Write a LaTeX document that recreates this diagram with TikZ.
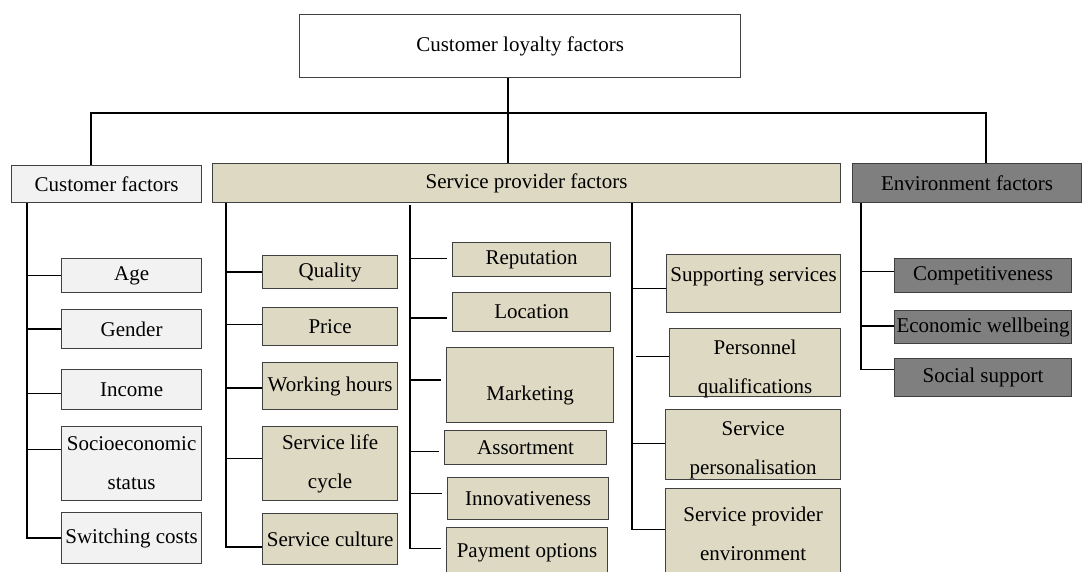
\documentclass[tikz,border=0pt]{standalone}
\usepackage{fontspec}
\setmainfont{Liberation Serif}
\usetikzlibrary{calc,positioning}
\definecolor{custgrey}{HTML}{F2F2F2}
\definecolor{sptan}{HTML}{DDD9C3}
\definecolor{envgrey}{HTML}{7F7F7F}

\begin{document}
\begin{tikzpicture}[x=1pt,y=-1pt]

\tikzset{box/.style={draw=black!75,line width=1.2pt,anchor=north west,inner sep=0pt,align=center,font=\fontsize{21}{39}\selectfont},
custbox/.style={box,fill=custgrey},
spbox/.style={box,fill=sptan},
envbox/.style={box,fill=envgrey},
link/.style={line width=1.7pt},
every label/.style={font=\fontsize{21}{39}\selectfont,align=center,inner sep=0pt}}

\useasboundingbox (0,0) rectangle (1082,572);
\clip (0,0) rectangle (1082,572);

% Top level
\node[box,minimum width=441,minimum height=63] (loyalty) at (299,14) {Customer loyalty factors};
\node[custbox,minimum width=190,minimum height=37] (cust) at (11,165) {Customer factors};
\node[spbox,minimum width=628,minimum height=39] (sp) at (212,163) {Service provider factors};
\node[envbox,minimum width=229,minimum height=39] (env) at (852,163) {Environment factors};

% Customer factors
\node[custbox,minimum width=140,minimum height=34] (age) at (61,258) {Age};
\node[custbox,minimum width=140,minimum height=39] (gender) at (61,309) {Gender};
\node[custbox,minimum width=140,minimum height=40] (income) at (61,369) {Income};
\node[custbox,minimum width=140,minimum height=74] (socio) at (61,426) {Socioeconomic\\status};
\node[custbox,minimum width=140,minimum height=51] (switching) at (61,512) {Switching costs};

% Service provider factors, first column
\node[spbox,minimum width=135,minimum height=33] (quality) at (262,255) {Quality};
\node[spbox,minimum width=135,minimum height=38] (price) at (262,307) {Price};
\node[spbox,minimum width=135,minimum height=47] (hours) at (262,362) {Working hours};
\node[spbox,minimum width=135,minimum height=74] (lifecycle) at (262,426) {Service life\\cycle};
\node[spbox,minimum width=135,minimum height=51] (culture) at (262,513) {Service culture};

% second column
\node[spbox,minimum width=158,minimum height=34] (reputation) at (452,242) {Reputation};
\node[spbox,minimum width=158,minimum height=39] (location) at (452,292) {Location};
\node[spbox,minimum width=167,minimum height=75,label={[yshift=-10pt]center:Marketing}] (marketing) at (446,347) {};
\node[spbox,minimum width=162,minimum height=34] (assortment) at (444,430) {Assortment};
\node[spbox,minimum width=161,minimum height=42] (innov) at (447,477) {Innovativeness};
\node[spbox,minimum width=161,minimum height=50] (payment) at (446,527) {Payment options};

% third column
\node[spbox,minimum width=174,minimum height=58,label={[yshift=7pt]center:Supporting services}] (support) at (666,254) {};
\node[spbox,minimum width=171,minimum height=68,label={[yshift=-6pt]center:Personnel\\qualifications}] (personnel) at (669,328) {};
\node[spbox,minimum width=175,minimum height=70,label={[yshift=-6pt]center:Service\\personalisation}] (personal) at (665,409) {};
\node[spbox,minimum width=175,minimum height=90] (spenv) at (665,488) {Service provider\\environment};

% Environment factors
\node[envbox,minimum width=177,minimum height=34] (comp) at (894,258) {Competitiveness};
\node[envbox,minimum width=177,minimum height=33] (econ) at (894,310) {Economic wellbeing};
\node[envbox,minimum width=177,minimum height=38] (social) at (894,358) {Social support};

% Stem positions
\coordinate (hub) at (508,113); \coordinate (hubL) at (91,113); \coordinate (hubR) at (986,113);
\coordinate (c0) at (27,0); \coordinate (c1) at (226,0); \coordinate (c2) at (410,0);
\coordinate (c3) at (632,0); \coordinate (c4) at (861,0);

% Edges
\draw[link] (loyalty.south -| hub) -- (sp.north -| hub);
\draw[link] (cust.north -| hubL) |- (hub) -| (env.north -| hubR);

\draw[link] (cust.south -| c0) |- (switching.west);
\foreach \n/\d in {age/0,gender/0,income/4,socio/-14} \draw[link] ($(\n.west -| c0)+(0,\d)$) -- ($(\n.west)+(0,\d)$);

\draw[link] (sp.south -| c1) |- ($(culture.west)+(0,8)$);
\foreach \n/\d in {quality/0,price/-2,hours/2,lifecycle/-5} \draw[link] ($(\n.west -| c1)+(0,\d)$) -- ($(\n.west)+(0,\d)$);

\draw[link,shorten >=5pt] ($(sp.south -| c2)+(0,2)$) |- ($(payment.west)+(0,-4)$);
\foreach \n/\d in {reputation/-1,location/6,marketing/-5,assortment/4,innov/-5} \draw[link,shorten >=5pt] ($(\n.west -| c2)+(0,\d)$) -- ($(\n.west)+(0,\d)$);

\draw[link] (sp.south -| c3) |- ($(spenv.west)+(0,-4)$);
\foreach \n/\d in {support/5,personal/-1} \draw[link] ($(\n.west -| c3)+(0,\d)$) -- ($(\n.west)+(0,\d)$);
\draw[link,shorten <=4pt] ($(personnel.west -| c3)+(0,-6)$) -- ($(personnel.west)+(0,-6)$);

\draw[link] (env.south -| c4) |- ($(social.west)+(0,-8)$);
\foreach \n/\d in {comp/-4,econ/-1} \draw[link] ($(\n.west -| c4)+(0,\d)$) -- ($(\n.west)+(0,\d)$);

\end{tikzpicture}
\end{document}
